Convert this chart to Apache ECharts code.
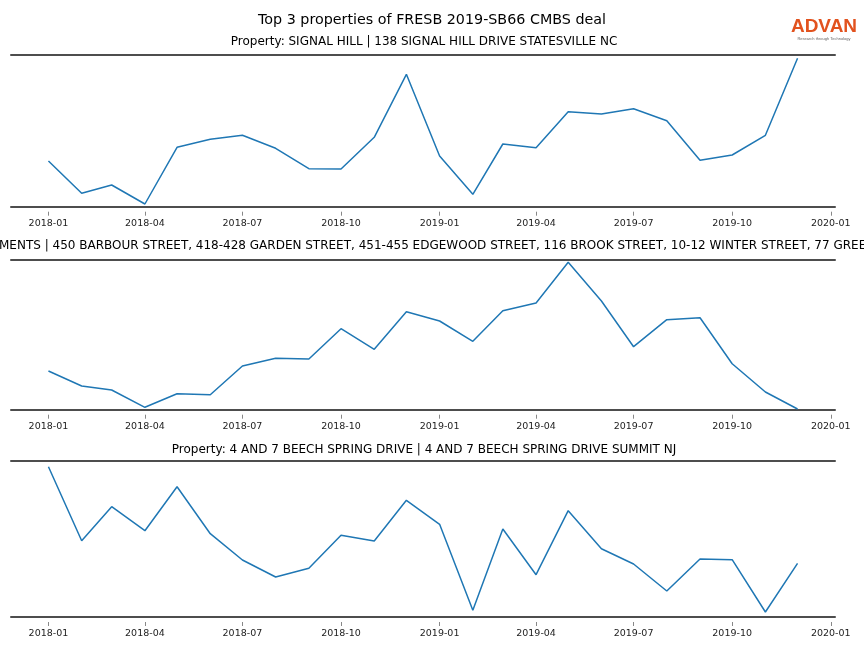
<!DOCTYPE html>
<html>
<head>
<meta charset="utf-8">
<script src="https://cdn.jsdelivr.net/npm/echarts@6/dist/echarts.min.js"></script>
<style>html,body{margin:0;padding:0;background:#fff}#c{width:864px;height:648px}</style>
</head>
<body>
<div id="c"></div>
<script>
const months = ['2018-01','2018-02','2018-03','2018-04','2018-05','2018-06','2018-07','2018-08','2018-09','2018-10','2018-11','2018-12',
                '2019-01','2019-02','2019-03','2019-04','2019-05','2019-06','2019-07','2019-08','2019-09','2019-10','2019-11','2019-12'];
const signalHill = [45.7,13.4,21.7,2.7,59.4,67.4,71.4,58.4,38,37.7,69.4,132.4,50.7,12.4,62.7,59,95,92.7,98,86,46.4,51.7,71.4,148.4];
const hartford = [38.7,23.7,19.7,2.4,16,15,43.7,51.4,50.7,81,60.4,98,88.7,68.4,99,106.7,147.4,108.7,63,90,92,46,17.7,0.7];
const beechSpring = [150.3,76.3,110.3,86.3,130.3,83.3,57,40,48.7,81.7,76,116.7,92.7,6.7,88,42.3,106.3,68.3,53,26,58,57.3,5,53.7];
const tickLabels = ['2018-01','2018-04','2018-07','2018-10','2019-01','2019-04','2019-07','2019-10','2020-01'];
const mainTitle = 'Top 3 properties of FRESB 2019-SB66 CMBS deal';
const panelTitles = [
  'Property: SIGNAL HILL | 138 SIGNAL HILL DRIVE STATESVILLE NC',
  'MENTS | 450 BARBOUR STREET, 418-428 GARDEN STREET, 451-455 EDGEWOOD STREET, 116 BROOK STREET, 10-12 WINTER STREET, 77 GREE',
  'Property: 4 AND 7 BEECH SPRING DRIVE | 4 AND 7 BEECH SPRING DRIVE SUMMIT NJ'
];
const seriesData = [signalHill, hartford, beechSpring];

function ts(s){ const p = s.split('-'); return Date.UTC(+p[0], +p[1]-1, 1); }
function fmt(v){ const d = new Date(v); const m = d.getUTCMonth()+1; return d.getUTCFullYear() + '-' + (m<10?'0':'') + m; }

const first = ts(months[0]), last = ts(months[months.length-1]);
const span = last - first;
const xMin = first - 0.05*span, xMax = last + 0.05*span;
const tickVals = tickLabels.map(ts);

const grids = [
  {top: 55, height: 151.7},
  {top: 260, height: 149.7},
  {top: 460.7, height: 156.3}
];
const titleY = [42, 246, 450];
const spineColor = '#4d4d4d';
const fam = 'DejaVu Sans';

const option = {
  animation: false,
  grid: grids.map(g => ({left: 11, right: 29, top: g.top, height: g.height})),
  xAxis: [],
  yAxis: [],
  series: [],
  graphic: []
};

grids.forEach((g, i) => {
  option.xAxis.push({type:'value', gridIndex:i, min:xMin, max:xMax, position:'bottom',
    axisLine:{show:true, lineStyle:{color:spineColor, width:2}}, axisTick:{show:false}, axisLabel:{show:false}, splitLine:{show:false}});
  option.xAxis.push({type:'value', gridIndex:i, min:xMin, max:xMax, position:'top',
    axisLine:{show:true, lineStyle:{color:spineColor, width:2}}, axisTick:{show:false}, axisLabel:{show:false}, splitLine:{show:false}});
  option.xAxis.push({type:'value', gridIndex:i, min:xMin, max:xMax, position:'bottom', offset:5,
    axisLine:{show:false},
    axisTick:{show:true, length:4, lineStyle:{color:'#888', width:1}, customValues: tickVals},
    axisLabel:{show:true, customValues: tickVals, formatter: v => fmt(v), color:'#222', fontSize:9.5, fontFamily:fam, margin:7, showMinLabel:true, showMaxLabel:true},
    splitLine:{show:false}});
  option.yAxis.push({type:'value', gridIndex:i, min:0, max:g.height, show:false, splitLine:{show:false}});
  option.series.push({type:'line', xAxisIndex:i*3, yAxisIndex:i, showSymbol:false, symbol:'none',
    lineStyle:{color:'#1f77b4', width:1.5},
    data: months.map((m, k) => [ts(m), seriesData[i][k]])});
});

option.graphic.push({type:'text', x:432, y:20, style:{text:mainTitle, fontFamily:fam, fontSize:14.3, fill:'#000', align:'center', verticalAlign:'middle'}});
panelTitles.forEach((t, i) => {
  if (i === 1) {
    option.graphic.push({type:'text', x:-1, y:titleY[i], style:{text:t, fontFamily:fam, fontSize:12, fill:'#000', align:'left', verticalAlign:'middle'}});
  } else {
    option.graphic.push({type:'text', x:424, y:titleY[i], style:{text:t, fontFamily:fam, fontSize:12, fill:'#000', align:'center', verticalAlign:'middle'}});
  }
});
option.graphic.push({type:'text', x:824, y:27, style:{text:'ADVAN', fontFamily:'Liberation Sans', fontWeight:'bold', fontSize:19, fill:'#e2521e', align:'center', verticalAlign:'middle'}});
option.graphic.push({type:'text', x:824, y:38.5, style:{text:'Research through Technology', fontFamily:'Liberation Sans', fontSize:4, fill:'#666', align:'center', verticalAlign:'middle'}});

const chart = echarts.init(document.getElementById('c'), null, {renderer:'canvas'});
chart.setOption(option);
</script>
</body>
</html>
